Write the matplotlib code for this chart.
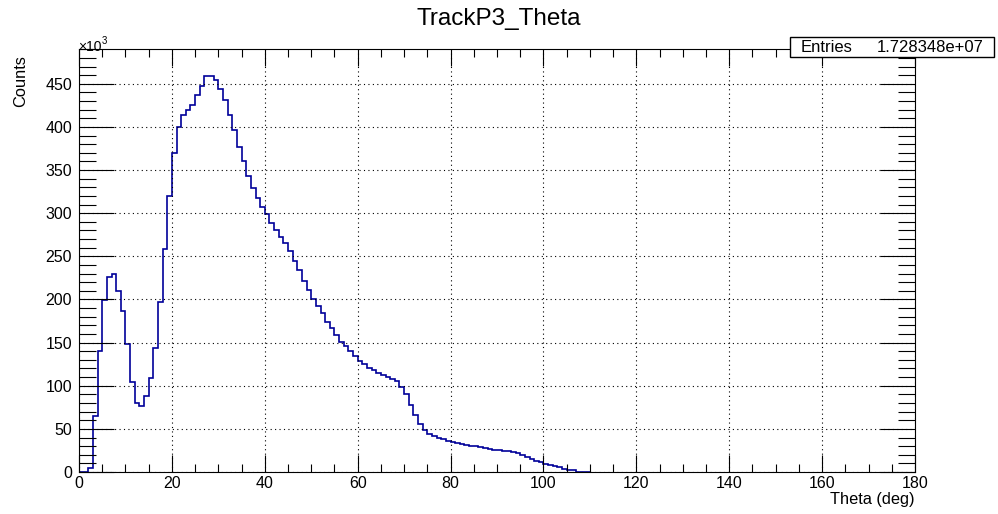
import numpy as np
import matplotlib.pyplot as plt
from matplotlib.ticker import MultipleLocator

plt.rcParams['font.family'] = ['Liberation Sans', 'DejaVu Sans']

# histogram: 180 bins of 1 deg, counts in units of 10^3
bin_edges = np.arange(0, 181, 1)
counts_k = [
    0, 0, 5, 65, 140, 199, 226, 229, 210, 187,
    148, 104, 80, 77, 88, 109, 144, 197, 258, 320,
    370, 400, 414, 420, 426, 437, 448, 459, 459, 454,
    444, 431, 414, 396, 377, 360, 343, 329, 318, 307,
    299, 289, 281, 273, 266, 256, 245, 234, 222, 211,
    201, 192, 184, 174, 167, 159, 151, 146, 140, 134,
    129, 125, 121, 118, 115, 113, 110, 108, 105, 99,
    91, 78, 66, 56, 49, 44, 41.5, 39.5, 37.7, 35.8,
    34.6, 33.8, 32.3, 31.2, 30, 29.6, 28.8, 27.7, 26.5, 26,
    25.4, 24.5, 24, 23, 22.5, 20, 17.6, 15.6, 12.8, 11.6,
    9.6, 8, 6.8, 5.6, 4, 2, 2, 0.5, 0.5, 0.5,
]
counts_k = counts_k + [0] * (180 - len(counts_k))

title = 'TrackP3_Theta'
entries = '1.728348e+07'

fig = plt.figure(figsize=(9.98, 5.14), dpi=100)
ax = fig.add_axes([0.0792, 0.0817, 0.9168 - 0.0792, 0.904 - 0.0817])

# empty tail bins sit under the axis line in the original, so stop at the last filled bin
counts_arr = np.array(counts_k)
last = np.nonzero(counts_arr)[0][-1] + 1
ax.stairs(counts_arr[:last], bin_edges[:last + 1], color='#000099', lw=1.2)

ax.set_xlim(0, 180)
ax.set_ylim(0, 490)
ax.xaxis.set_major_locator(MultipleLocator(20))
ax.xaxis.set_minor_locator(MultipleLocator(5))
ax.yaxis.set_major_locator(MultipleLocator(50))
ax.yaxis.set_minor_locator(MultipleLocator(10))
ax.tick_params(which='both', direction='in', top=True, right=True,
               labelsize=11.5, colors='black', width=0.8)
ax.tick_params(axis='x', which='major', length=12.5, pad=3)
ax.tick_params(axis='x', which='minor', length=6)
ax.tick_params(axis='y', which='major', length=25, pad=5)
ax.tick_params(axis='y', which='minor', length=12)
ax.grid(True, which='major', color='black', linestyle=(0, (1, 3)), lw=0.8)
for s in ax.spines.values():
    s.set_linewidth(0.8)

fig.text(0.5, 0.963, title, ha='center', va='center', fontsize=17.5)
fig.text(0.0785, 1 - 51.3 / 514, '×10', ha='left', va='baseline', fontsize=10)
fig.text(0.1022, 1 - 44 / 514, '3', ha='left', va='baseline', fontsize=7)
fig.text(0.021, 1 - 55 / 514, 'Counts', rotation=90, ha='center', va='top', fontsize=11.8)
fig.text(0.9168, 0.014, 'Theta (deg)', ha='right', va='bottom', fontsize=11.8)

# stats box
fig.patches.append(plt.Rectangle((0.7916, 1 - 57 / 514), 0.998 - 0.7916 - 0.002, 20 / 514,
                                 transform=fig.transFigure, facecolor='white',
                                 edgecolor='black', lw=1, zorder=5))
fig.text(0.802, 1 - 47 / 514, 'Entries', ha='left', va='center', fontsize=12, zorder=6)
fig.text(0.986, 1 - 47 / 514, entries, ha='right', va='center', fontsize=12, zorder=6)

fig.savefig('out.png', dpi=100)
